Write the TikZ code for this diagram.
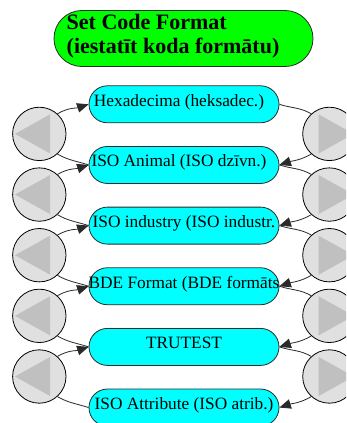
\documentclass[tikz,border=0pt]{standalone}
\usepackage{fontspec}
\setmainfont{Liberation Serif}
\usetikzlibrary{arrows.meta}
\definecolor{titlegreen}{HTML}{00FF00}
\definecolor{itemcyan}{HTML}{00FFFF}
\definecolor{btnbg}{HTML}{E0E0E0}
\definecolor{btntri}{HTML}{C0C0C0}
\definecolor{edgegray}{HTML}{2A2A2A}
\begin{document}
\begin{tikzpicture}[x=1pt,y=1pt,
  titlebox/.style={draw=edgegray, line width=0.8pt, fill=titlegreen,
    rounded corners=27.9pt, minimum width=259pt, minimum height=56pt, inner sep=0pt},
  titletext/.style={font=\bfseries\fontsize{22}{24}\selectfont, align=left, inner sep=0pt},
  item/.style={draw=edgegray, line width=0.8pt, fill=itemcyan,
    rounded corners=18.4pt, minimum width=190pt, minimum height=37pt, inner sep=0pt,
    font=\fontsize{17.3}{20}\selectfont, text height=13pt, text depth=9.5pt},
  btn/.style={circle, draw=black, line width=0.8pt, fill=btnbg,
    minimum size=53.4pt, inner sep=0pt},
  prevbtn/.style={btn, path picture={
    \fill[btntri] ([xshift=-24.3pt]path picture bounding box.center)
      -- ([xshift=10.7pt,yshift=19.5pt]path picture bounding box.center)
      -- ([xshift=10.7pt,yshift=-19.5pt]path picture bounding box.center) -- cycle;}},
  nextbtn/.style={btn, path picture={
    \fill[btntri] ([xshift=24.3pt]path picture bounding box.center)
      -- ([xshift=-10.7pt,yshift=19.5pt]path picture bounding box.center)
      -- ([xshift=-10.7pt,yshift=-19.5pt]path picture bounding box.center) -- cycle;}},
  link/.style={draw=edgegray, line width=0.8pt},
  tip/.style={-{Triangle[length=11.5pt,width=9.5pt]}}
]
\useasboundingbox (0,0) rectangle (346,-423);
\clip (0,0) rectangle (346,-423);
\fill[white] (0,0) rectangle (346,-423);

% heading
\node[titlebox] (title) at (183.5,-38.5) {};
\node[titletext, anchor=base west] (titletxt) at (66.5,-53.3)
  {Set Code Format\\(iestatīt koda formātu)};

% menu entries
\node[item] (b1) at (184,-104.3) {\makebox[0pt]{\hspace*{-10pt}Hexadecima (heksadec.)}};
\node[item] (b2) at (184,-164.95) {\makebox[0pt]{\hspace*{-10pt}ISO Animal (ISO dzīvn.)}};
\node[item] (b3) at (184,-225.6) {\makebox[0pt]{ISO industry (ISO industr.}};
\node[item] (b4) at (184,-286.25) {\makebox[0pt]{BDE Format (BDE formāts}};
\node[item] (b5) at (184,-346.9) {\makebox[0pt]{TRUTEST}};
\node[item] (b6) at (184,-407.55) {\makebox[0pt]{ISO Attribute (ISO atrib.)}};

% previous / next buttons
\node[prevbtn] (l1) at (39.3,-133.9) {};
\node[prevbtn] (l2) at (39.3,-194.55) {};
\node[prevbtn] (l3) at (39.3,-255.2) {};
\node[prevbtn] (l4) at (39.3,-315.85) {};
\node[prevbtn] (l5) at (39.3,-376.5) {};
\node[nextbtn] (r1) at (329.4,-133.9) {};
\node[nextbtn] (r2) at (329.4,-194.55) {};
\node[nextbtn] (r3) at (329.4,-255.2) {};
\node[nextbtn] (r4) at (329.4,-315.85) {};
\node[nextbtn] (r5) at (329.4,-376.5) {};

% left side: entry below -> button -> entry above
\foreach \i/\up/\dn in {1/1/2, 2/2/3, 3/3/4, 4/4/5, 5/5/6} {
  \draw[link,tip] (l\i.48) to[out=30,in=198] (b\up.west);
  \draw[link] (l\i.-48) to[out=-30,in=162] (b\dn.west);
}
% right side: entry above -> button -> entry below
\foreach \i/\up/\dn in {1/1/2, 2/2/3, 3/3/4, 4/4/5, 5/5/6} {
  \draw[link] (b\up.east) to[out=-18,in=150] (r\i.132);
  \draw[link,tip] (r\i.-132) to[out=210,in=18] (b\dn.east);
}
\end{tikzpicture}
\end{document}
